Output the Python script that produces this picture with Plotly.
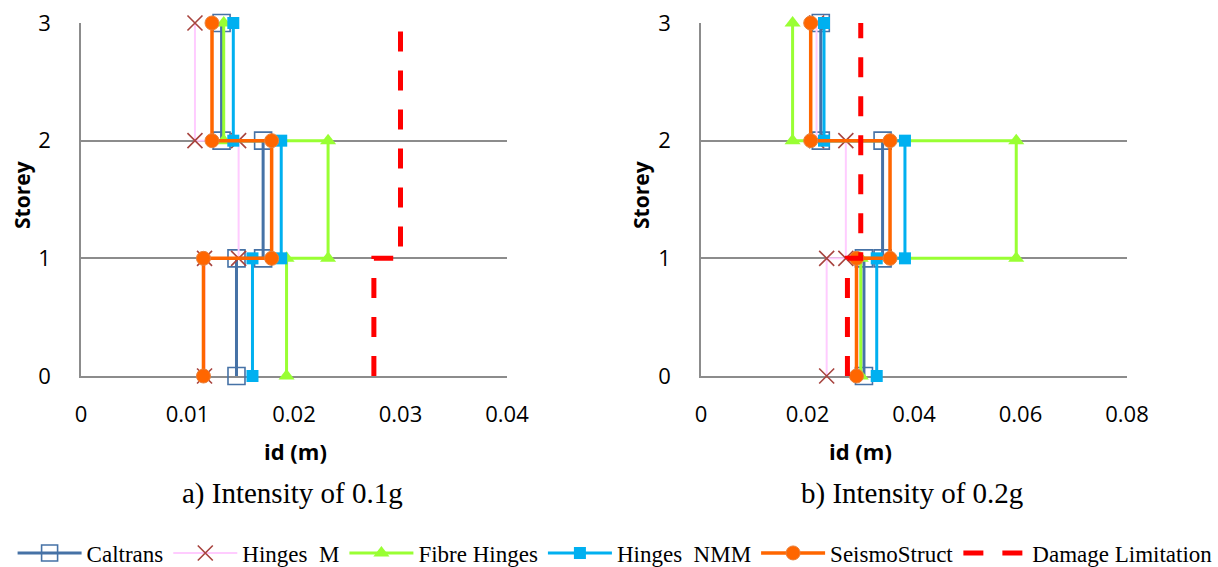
import plotly.graph_objects as go
from plotly.subplots import make_subplots

# ---------------- data ----------------
storey = [0, 1, 1, 2, 2, 3]

# a) Intensity of 0.1g
caltrans_01 = [0.0146, 0.0146, 0.0171, 0.0171, 0.0132, 0.0132]
hingesM_01 = [0.0116, 0.0116, 0.0148, 0.0148, 0.0107, 0.0107]
fibre_01 = [0.0193, 0.0193, 0.0232, 0.0232, 0.0134, 0.0134]
nmm_01 = [0.0161, 0.0161, 0.0188, 0.0188, 0.0143, 0.0143]
seismo_01 = [0.0115, 0.0115, 0.0179, 0.0179, 0.0123, 0.0123]
damage_01 = [0.0275, 0.0275, 0.0300, 0.0300, 0.0300, 0.0300]

# b) Intensity of 0.2g
caltrans_02 = [0.0306, 0.0306, 0.0341, 0.0341, 0.0225, 0.0225]
hingesM_02 = [0.0236, 0.0236, 0.0272, 0.0272, 0.0217, 0.0217]
fibre_02 = [0.0300, 0.0300, 0.0592, 0.0592, 0.0172, 0.0172]
nmm_02 = [0.0330, 0.0330, 0.0383, 0.0383, 0.0231, 0.0231]
seismo_02 = [0.0292, 0.0292, 0.0355, 0.0355, 0.0206, 0.0206]
damage_02 = [0.0275, 0.0275, 0.0300, 0.0300, 0.0300, 0.0300]

series_names = ["Caltrans", "Hinges\u00a0\u00a0M", "Fibre Hinges", "Hinges\u00a0\u00a0NMM",
                "SeismoStruct", "Damage Limitation"]
x_ticks_01 = [0, 0.01, 0.02, 0.03, 0.04]
x_ticks_02 = [0, 0.02, 0.04, 0.06, 0.08]
y_ticks = [0, 1, 2, 3]
subtitles = ["a) Intensity of 0.1g", "b) Intensity of 0.2g"]

# ---------------- styles ----------------
styles = [
    dict(line=dict(color="#4672A6", width=3),
         marker=dict(symbol="square-open", size=17, color="#4672A6", line=dict(width=1.6, color="#4672A6"))),
    dict(line=dict(color="#FFCCFF", width=2),
         marker=dict(symbol="x-thin-open", size=15, color="#A8443F", line=dict(width=1.6, color="#A8443F"))),
    dict(line=dict(color="#99FF33", width=3),
         marker=dict(symbol="triangle-up", size=14, color="#99FF33", line=dict(width=0))),
    dict(line=dict(color="#00B0F0", width=3),
         marker=dict(symbol="square", size=12, color="#00B0F0", line=dict(width=0))),
    dict(line=dict(color="#FF6600", width=3.5),
         marker=dict(symbol="circle", size=14, color="#FF6600", line=dict(width=1, color="#E9803A"))),
    dict(line=dict(color="#FF0000", width=5, dash="20px,19px"), marker=None),
]

fig = make_subplots(rows=1, cols=2)

panels = [
    [caltrans_01, hingesM_01, fibre_01, nmm_01, seismo_01, damage_01],
    [caltrans_02, hingesM_02, fibre_02, nmm_02, seismo_02, damage_02],
]

for col, data in enumerate(panels, start=1):
    for i, (vals, name, st) in enumerate(zip(data, series_names, styles)):
        kw = dict(x=vals, y=storey, name=name, legendgroup=name,
                  showlegend=(col == 1), cliponaxis=False, line=st["line"])
        if st["marker"] is None:
            kw["mode"] = "lines"
        else:
            kw["mode"] = "lines+markers"
            kw["marker"] = st["marker"]
        fig.add_trace(go.Scatter(**kw), row=1, col=col)

W, H = 1218, 567
grid_col = "#8C8C8C"
tick_font = dict(family="Open Sans", size=22, color="#000000")

common_x = dict(showgrid=False, zeroline=False, showline=True, linecolor=grid_col, linewidth=1.5,
                ticks="", tickfont=tick_font, ticklabelstandoff=18, layer="below traces")
common_y = dict(range=[0, 3], tickvals=y_ticks, showgrid=True, gridcolor=grid_col, gridwidth=1.5,
                zeroline=False, showline=True, linecolor=grid_col, linewidth=1.5,
                ticks="", tickfont=tick_font, ticklabelstandoff=24, layer="below traces")

fig.update_xaxes(common_x)
fig.update_yaxes(common_y)
fig.update_xaxes(range=[0, 0.04], tickvals=x_ticks_01, ticktext=["0", "0.01", "0.02", "0.03", "0.04"],
                 domain=[81 / W, 507 / W], row=1, col=1)
fig.update_xaxes(range=[0, 0.08], tickvals=x_ticks_02, ticktext=["0", "0.02", "0.04", "0.06", "0.08"],
                 domain=[701 / W, 1127 / W], row=1, col=2)
fig.update_yaxes(domain=[1 - 376 / H, 1 - 23 / H])

annotations = []
title_font = dict(family="Open Sans", size=22, color="#000000")
# y titles
for xc in [22, 641]:
    annotations.append(dict(x=xc / W, y=1 - 195 / H, xref="paper", yref="paper", text="<b>Storey</b>",
                            textangle=-90, showarrow=False, font=dict(family="Open Sans", size=21, color="#000000"),
                            xanchor="center", yanchor="middle"))
# x titles
for xc in [295, 860]:
    annotations.append(dict(x=xc / W, y=1 - 451 / H, xref="paper", yref="paper", text="<b>id (m)</b>",
                            showarrow=False, font=title_font, xanchor="center", yanchor="middle"))
# subtitles
for xc, txt in zip([292, 912], subtitles):
    annotations.append(dict(x=xc / W, y=1 - 493 / H, xref="paper", yref="paper", text=txt,
                            showarrow=False, font=dict(family="Liberation Serif", size=29, color="#000000"),
                            xanchor="center", yanchor="middle"))

fig.update_layout(
    width=W, height=H,
    margin=dict(l=0, r=0, t=0, b=0, autoexpand=False),
    paper_bgcolor="white", plot_bgcolor="white",
    annotations=annotations,
    legend=dict(orientation="h", x=0.505, xanchor="center", y=1 - 553 / H, yanchor="middle",
                font=dict(family="Liberation Serif", size=23, color="#000000"),
                itemwidth=64, tracegroupgap=0, bgcolor="rgba(0,0,0,0)"),
)

fig.write_html("out.html", config={"displayModeBar": False},
               post_script="document.body.style.margin='0';document.body.style.overflow='hidden';")
